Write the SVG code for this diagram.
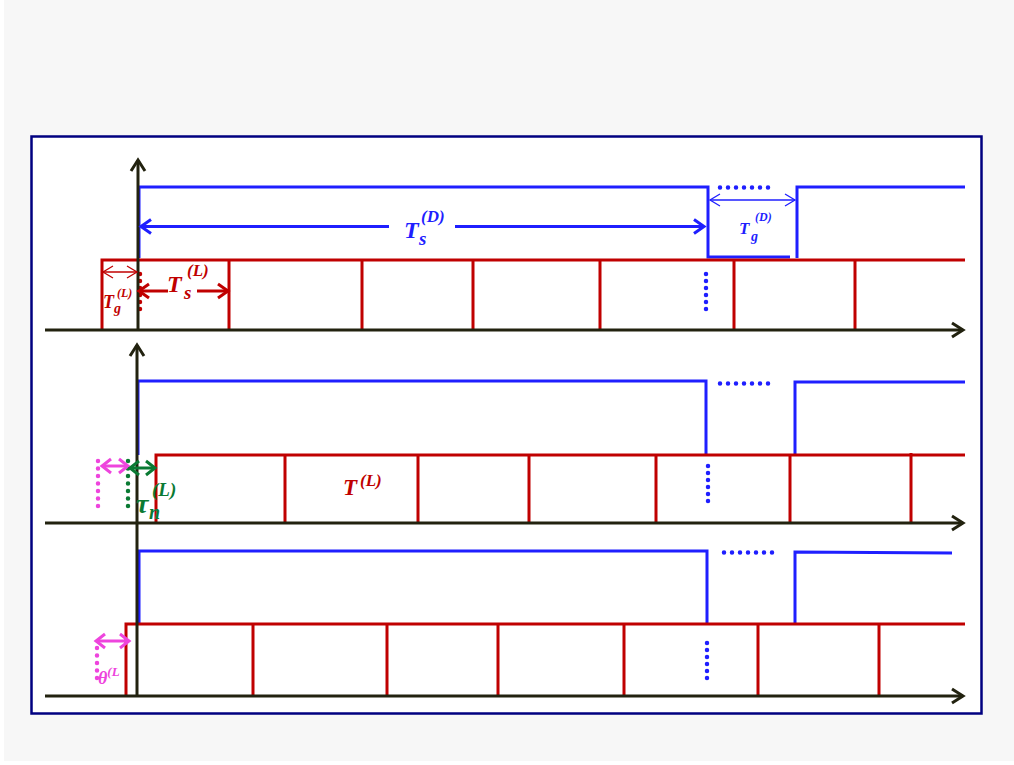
<svg xmlns="http://www.w3.org/2000/svg" width="1014" height="765" viewBox="0 0 1014 765">
<defs>
<style>
.ax{stroke:#22220f;stroke-width:3;fill:none}
.bl{stroke:#1f1fff;stroke-width:3;fill:none}
.rd{stroke:#c00000;stroke-width:3;fill:none}
.bdot{stroke:#1f1fff;stroke-width:4.5;stroke-linecap:round;stroke-dasharray:0 8;fill:none}
.vdot{stroke:#1f1fff;stroke-width:4.5;stroke-linecap:round;stroke-dasharray:0 7;fill:none}
.rdot{stroke:#c00000;stroke-width:4.5;stroke-linecap:round;stroke-dasharray:0 7;fill:none}
.pdot{stroke:#ee44dd;stroke-width:4.5;stroke-linecap:round;stroke-dasharray:0 7.5;fill:none}
.gdot{stroke:#0a7a33;stroke-width:4.5;stroke-linecap:round;stroke-dasharray:0 7.5;fill:none}
.m{font-family:"Liberation Serif",serif;font-style:italic;font-weight:bold}
</style>
<marker id="axh" markerUnits="userSpaceOnUse" markerWidth="24" markerHeight="24" refX="12" refY="12" orient="auto" overflow="visible"><path d="M1,5 L12,12 L1,19" fill="none" stroke="#22220f" stroke-width="3"/></marker>
<marker id="bh" markerUnits="userSpaceOnUse" markerWidth="24" markerHeight="24" refX="12" refY="12" orient="auto-start-reverse" overflow="visible"><path d="M2,5 L12,12 L2,19" fill="none" stroke="#1f1fff" stroke-width="3"/></marker>
<marker id="bth" markerUnits="userSpaceOnUse" markerWidth="24" markerHeight="24" refX="12" refY="12" orient="auto-start-reverse" overflow="visible"><path d="M2,6 L12,12 L2,18" fill="none" stroke="#1f1fff" stroke-width="1.3"/></marker>
<marker id="rh" markerUnits="userSpaceOnUse" markerWidth="24" markerHeight="24" refX="12" refY="12" orient="auto-start-reverse" overflow="visible"><path d="M2,5 L12,12 L2,19" fill="none" stroke="#c00000" stroke-width="3"/></marker>
<marker id="rth" markerUnits="userSpaceOnUse" markerWidth="24" markerHeight="24" refX="12" refY="12" orient="auto-start-reverse" overflow="visible"><path d="M2,6 L12,12 L2,18" fill="none" stroke="#c00000" stroke-width="1.3"/></marker>
<marker id="ph" markerUnits="userSpaceOnUse" markerWidth="24" markerHeight="24" refX="12" refY="12" orient="auto-start-reverse" overflow="visible"><path d="M3,5 L12,12 L3,19" fill="none" stroke="#ee44dd" stroke-width="3"/></marker>
<marker id="gh" markerUnits="userSpaceOnUse" markerWidth="24" markerHeight="24" refX="12" refY="12" orient="auto-start-reverse" overflow="visible"><path d="M3,5 L12,12 L3,19" fill="none" stroke="#0a7a33" stroke-width="3"/></marker>
</defs>
<rect x="0" y="0" width="1014" height="765" fill="#ffffff"/>
<rect x="4" y="0" width="1010" height="761" fill="#f7f7f7"/>
<rect id="frame" x="31.5" y="136.5" width="950" height="577" fill="#ffffff" stroke="#000080" stroke-width="2.5"/>

<g id="panel1">
<path class="bl" d="M139,258 V187 H708 V257 H790 M797,258 V187 H965"/>
<path class="bdot" d="M720,187.5 H776"/>
<path class="rd" d="M102,330 V260 H965 M229,260 V330 M362,260 V330 M473,260 V330 M600,260 V330 M734,260 V330 M855,260 V330"/>
<path class="rdot" d="M140,274 V316"/>
<path class="vdot" d="M706,274 V316"/>
</g>
<g id="panel2">
<path class="bl" d="M138,455 V381 H706 V455 M795,455 V382 H965"/>
<path class="bdot" d="M720,383.5 H776"/>
<path class="rd" d="M156,523 V455 H965 M285,455 V523 M418,455 V523 M529,455 V523 M656,455 V523 M790,455 V523 M911,453 V523"/>
<path class="vdot" d="M708,466 V508"/>
<path class="pdot" d="M98,461 V513"/>
<path class="gdot" d="M128,461 V513"/>
</g>
<g id="panel3">
<path class="bl" d="M139,623 V551 H707 V623 M795,623 V552 L952,553"/>
<path class="bdot" d="M724,552.5 H780"/>
<text class="m" x="98" y="684" font-size="18" fill="#ee44dd">θ<tspan font-size="13" dy="-8">(L</tspan></text>
<path class="rd" d="M126,696 V624 H965 M253,624 V696 M387,624 V696 M498,624 V696 M624,624 V696 M758,624 V696 M879,624 V696"/>
<path class="vdot" d="M707,643 V685"/>
<path class="pdot" d="M97,648 V683"/>
</g>

<g id="axes">
<path class="ax" d="M138,330 V160" marker-end="url(#axh)"/>
<path class="ax" d="M45,330 H963" marker-end="url(#axh)"/>
<path class="ax" d="M137,696 V345" marker-end="url(#axh)"/>
<path class="ax" d="M45,523 H963" marker-end="url(#axh)"/>
<path class="ax" d="M45,696 H963" marker-end="url(#axh)"/>
</g>

<g id="connectors">
<path class="bl" d="M389,226.5 H141" marker-end="url(#bh)"/>
<path class="bl" d="M455,226.5 H704" marker-end="url(#bh)"/>
<path d="M710,200 H795" stroke="#1f1fff" stroke-width="1.3" fill="none" marker-start="url(#bth)" marker-end="url(#bth)"/>
<path d="M103,272 H137" stroke="#c00000" stroke-width="1.3" fill="none" marker-start="url(#rth)" marker-end="url(#rth)"/>
<path class="rd" d="M168,291 H139" marker-end="url(#rh)"/>
<path class="rd" d="M197,291 H228" marker-end="url(#rh)"/>
<path d="M102,466 H128" stroke="#ee44dd" stroke-width="3" fill="none" marker-start="url(#ph)" marker-end="url(#ph)"/>
<path d="M130,468 H155" stroke="#0a7a33" stroke-width="3" fill="none" marker-start="url(#gh)" marker-end="url(#gh)"/>
<path d="M96,641 H129" stroke="#ee44dd" stroke-width="3" fill="none" marker-start="url(#ph)" marker-end="url(#ph)"/>
</g>

<g id="labels">
<text class="m" x="404" y="238" font-size="24" fill="#1f1fff">T</text>
<text class="m" x="419" y="245" font-size="19" fill="#1f1fff">s</text>
<text class="m" x="421" y="222" font-size="17" fill="#1f1fff">(D)</text>
<text class="m" x="739" y="234" font-size="17" fill="#1f1fff">T</text>
<text class="m" x="751" y="241" font-size="14" fill="#1f1fff">g</text>
<text class="m" x="755" y="221" font-size="12" fill="#1f1fff">(D)</text>
<text class="m" x="167" y="292" font-size="24" fill="#c00000">T</text>
<text class="m" x="184" y="299" font-size="19" fill="#c00000">s</text>
<text class="m" x="187" y="276" font-size="17" fill="#c00000">(L)</text>
<text class="m" x="103" y="308" font-size="18" fill="#c00000">T</text>
<text class="m" x="114" y="313" font-size="14" fill="#c00000">g</text>
<text class="m" x="117" y="297" font-size="12" fill="#c00000">(L)</text>
<text class="m" x="343" y="495" font-size="23" fill="#c00000">T</text>
<text class="m" x="360" y="486" font-size="17" fill="#c00000">(L)</text>
<text class="m" x="136" y="513" font-size="28" fill="#0a7a33">τ</text>
<text class="m" x="149" y="519" font-size="20" fill="#0a7a33">n</text>
<text class="m" x="152" y="496" font-size="19" fill="#0a7a33">(L)</text>
</g>
</svg>
